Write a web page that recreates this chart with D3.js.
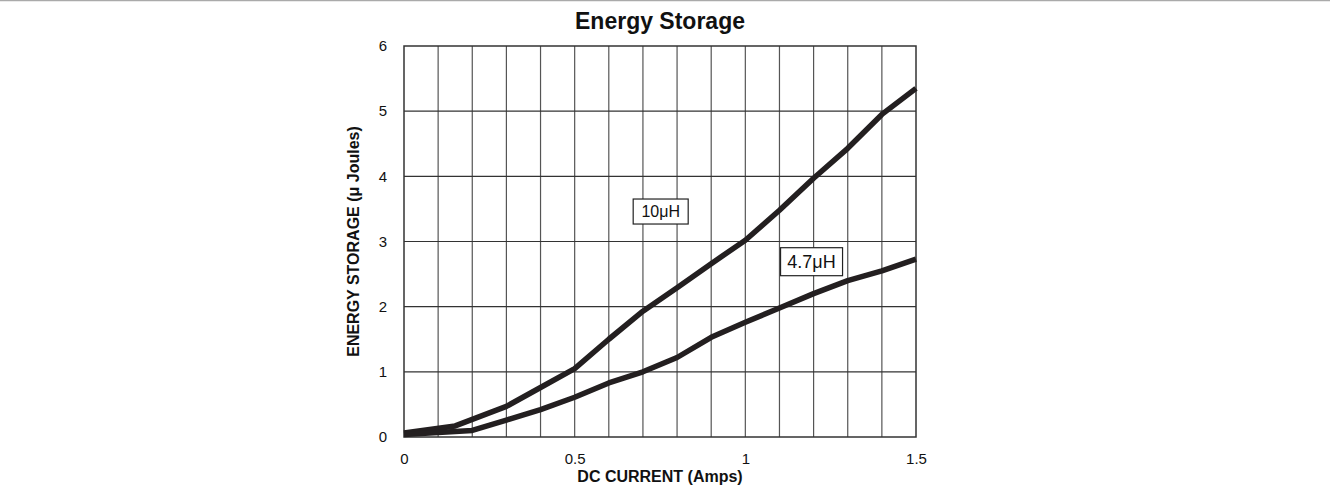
<!DOCTYPE html>
<html>
<head>
<meta charset="utf-8">
<script src="https://cdn.jsdelivr.net/npm/d3@7"></script>
<style>
  body { margin: 0; background: #fff; }
  svg { display: block; font-family: "Liberation Sans", Arial, sans-serif; }
</style>
</head>
<body>
<svg id="vis" width="1330" height="495"></svg>
<script>
var vis = d3.select("#vis");

// chart data
var current10 = [0, 0.15, 0.3, 0.4, 0.5, 0.6, 0.7, 0.8, 0.9, 1.0, 1.1, 1.2, 1.3, 1.4, 1.5];
var energy10 = [0.06, 0.17, 0.47, 0.76, 1.05, 1.5, 1.93, 2.29, 2.66, 3.02, 3.48, 3.97, 4.43, 4.95, 5.35];
var current47 = [0, 0.2, 0.3, 0.4, 0.5, 0.6, 0.7, 0.8, 0.9, 1.0, 1.1, 1.2, 1.3, 1.4, 1.5];
var energy47 = [0.04, 0.1, 0.26, 0.42, 0.61, 0.83, 1.0, 1.22, 1.53, 1.76, 1.98, 2.2, 2.4, 2.55, 2.73];
var xTicks = [0, 0.5, 1, 1.5];
var yTicks = [0, 1, 2, 3, 4, 5, 6];
var seriesNames = ["10\u03bcH", "4.7\u03bcH"];
var labelAt = [[0.752, 3.46], [1.194, 2.69]];

// plot box (note: "top" is reserved on window, so use other names)
var plotL = 404, plotR = 916, plotT = 46, plotB = 437;

var x = d3.scaleLinear().domain([0, 1.5]).range([plotL, plotR]);
var y = d3.scaleLinear().domain([0, 6]).range([plotB, plotT]);

// top rule across the page
vis.append("line")
    .attr("x1", 0).attr("x2", 1330)
    .attr("y1", 0.5).attr("y2", 0.5)
    .attr("stroke", "#aaa").attr("stroke-width", 1.5);

// title
vis.append("text")
    .attr("x", (plotL + plotR) / 2)
    .attr("y", 29)
    .attr("text-anchor", "middle")
    .attr("font-size", "23px")
    .attr("font-weight", "bold")
    .attr("fill", "#111")
    .text("Energy Storage");

// grid: vertical every 0.1, horizontal every 1
var vgrid = d3.range(1, 15).map(i => i / 10);
vis.append("g").selectAll("line").data(vgrid).join("line")
    .attr("x1", d => x(d)).attr("x2", d => x(d))
    .attr("y1", plotT).attr("y2", plotB)
    .attr("stroke", "#555").attr("stroke-width", 1.2);

vis.append("g").selectAll("line").data(yTicks.slice(1, -1)).join("line")
    .attr("x1", plotL).attr("x2", plotR)
    .attr("y1", d => y(d)).attr("y2", d => y(d))
    .attr("stroke", "#333").attr("stroke-width", 1.2);

vis.append("rect")
    .attr("x", plotL).attr("y", plotT)
    .attr("width", plotR - plotL).attr("height", plotB - plotT)
    .attr("fill", "none").attr("stroke", "#333").attr("stroke-width", 1.5);

// axes (labels only, the frame is drawn above)
var xAxis = vis.append("g")
    .attr("transform", `translate(0 ${plotB})`)
    .call(d3.axisBottom(x).tickValues(xTicks).tickSize(0).tickPadding(16).tickFormat(d3.format("")));
var yAxis = vis.append("g")
    .attr("transform", `translate(${plotL} 0)`)
    .call(d3.axisLeft(y).tickValues(yTicks).tickSize(0).tickPadding(17).tickFormat(d3.format("")));
[xAxis, yAxis].forEach(a => {
    a.select(".domain").remove();
    a.attr("font-family", null).attr("font-size", null);
    a.selectAll("text")
        .attr("font-size", "15px")
        .attr("fill", "#111");
});

// axis titles
vis.append("text")
    .attr("x", (plotL + plotR) / 2)
    .attr("y", 482)
    .attr("text-anchor", "middle")
    .attr("font-size", "16px")
    .attr("font-weight", "bold")
    .attr("fill", "#111")
    .text("DC CURRENT (Amps)");

vis.append("text")
    .attr("transform", `translate(359 ${(plotT + plotB) / 2}) rotate(-90)`)
    .attr("text-anchor", "middle")
    .attr("font-size", "16px")
    .attr("font-weight", "bold")
    .attr("fill", "#111")
    .text("ENERGY STORAGE (\u03bc Joules)");

// curves
var line = d3.line().x(d => x(d[0])).y(d => y(d[1]));
var curves = [d3.zip(current10, energy10), d3.zip(current47, energy47)];
vis.append("g").selectAll("path").data(curves).join("path")
    .attr("d", line)
    .attr("fill", "none")
    .attr("stroke", "#231f20")
    .attr("stroke-width", 5.5)
    .attr("stroke-linejoin", "round");

// boxed labels
var boxSize = [[55, 25, 16], [62, 28, 18]];
seriesNames.forEach((name, i) => {
    var cx = x(labelAt[i][0]), cy = y(labelAt[i][1]);
    var w = boxSize[i][0], h = boxSize[i][1];
    vis.append("rect")
        .attr("x", cx - w / 2).attr("y", cy - h / 2)
        .attr("width", w).attr("height", h)
        .attr("fill", "#fff").attr("stroke", "#222").attr("stroke-width", 1.2);
    vis.append("text")
        .attr("x", cx).attr("y", cy)
        .attr("dy", "0.36em")
        .attr("text-anchor", "middle")
        .attr("font-size", boxSize[i][2] + "px")
        .attr("fill", "#111")
        .text(name);
});
</script>
</body>
</html>
